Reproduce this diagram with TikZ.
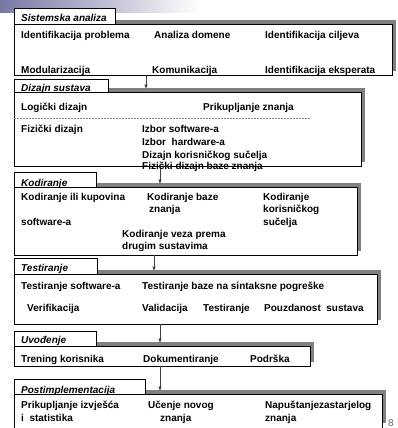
\documentclass[tikz,border=0pt]{standalone}
\usepackage{fontspec}
\setmainfont{Liberation Sans}
\usetikzlibrary{arrows.meta}
\definecolor{shadowgray}{RGB}{128,128,128}
\definecolor{barpurple}{RGB}{120,120,165}
\begin{document}
\begin{tikzpicture}[x=1pt,y=-1pt,
	txt/.style={anchor=base west,yshift=-3.6pt,inner sep=0pt,font=\bfseries\fontsize{10}{12}\selectfont},
	ttl/.style={anchor=base west,yshift=-3.6pt,inner sep=0pt,font=\bfseries\itshape\fontsize{10}{12}\selectfont},
	shad/.style={fill=shadowgray,draw=none},
	frame/.style={draw=black,fill=white,line width=0.8pt},
	arr/.style={-{Latex[length=4.5pt,width=3.5pt]},draw=black!75,line width=0.6pt}]
		\useasboundingbox (0,0) rectangle (397,428);
		\clip (0,0) rectangle (397,428);
		\shade[left color=barpurple,right color=white] (0,0) rectangle (200,13);
	
		% Sistemska analiza
		\draw[shad] (18,20) rectangle (396,71);
		\draw[frame] (14,24) rectangle (392,75);
		\draw[frame] (14,8) rectangle (115,24);
		\node[ttl] (sa) at (21,18) {Sistemska analiza};
		\node[txt] (sa1) at (21,35) {Identifikacija problema};
		\node[txt] (sa2) at (154,35) {Analiza domene};
		\node[txt] (sa3) at (265,35) {Identifikacija ciljeva};
		\node[txt] (sa4) at (21,70) {Modularizacija};
		\node[txt] (sa5) at (152,70) {Komunikacija};
		\node[txt] (sa6) at (265,70) {Identifikacija eksperata};
	
		% Dizajn sustava
		\draw[shad] (18,88) rectangle (365,162);
		\draw[frame] (14,92) rectangle (361,166);
		\draw[frame] (14,79) rectangle (108,92);
		\node[ttl] (ds) at (21,88) {Dizajn sustava};
		\node[txt] (ds1) at (21,107) {Logički dizajn};
		\node[txt] (ds2) at (203,107) {Prikupljanje znanja};
		\draw[shadowgray,line width=0.6pt,dash pattern=on 2pt off 1pt] (14,118) -- (310,118);
		\node[txt] (ds3) at (21,129) {Fizički dizajn};
		\node[txt] (ds4) at (142,129) {Izbor software-a};
		\node[txt] (ds5) at (142,142) {Izbor\ \ hardware-a};
		\node[txt] (ds6) at (142,155) {Dizajn korisničkog sučelja};
	
		% Kodiranje
		\draw[shad] (18,183) rectangle (361,251);
		\draw[frame] (14,187) rectangle (357,255);
		\draw[frame] (14,172) rectangle (96,187);
		\node[ttl] (ko) at (21,183) {Kodiranje};
		\node[txt] (ko1) at (21,197) {Kodiranje ili kupovina};
		\node[txt] (ko2) at (147,197) {Kodiranje baze};
		\node[txt] (ko3) at (149,209) {znanja};
		\node[txt] (ko4) at (263,197) {Kodiranje};
		\node[txt] (ko5) at (263,209) {korisničkog};
		\node[txt] (ko6) at (263,222) {sučelja};
		\node[txt] (ko7) at (21,222) {software-a};
		\node[txt] (ko8) at (122,234) {Kodiranje veza prema};
		\node[txt] (ko9) at (122,246) {drugim sustavima};
	
		% Testiranje
		\draw[shad] (18,270) rectangle (381,320);
		\draw[frame] (14,274) rectangle (377,324);
		\draw[frame] (14,258) rectangle (97,274);
		\node[ttl] (te) at (21,268) {Testiranje};
		\node[txt] (te1) at (21,286) {Testiranje software-a};
		\node[txt] (te2) at (142,286) {Testiranje baze na sintaksne pogreške};
		\node[txt] (te3) at (27,308) {Verifikacija};
		\node[txt] (te4) at (142,308) {Validacija};
		\node[txt] (te5) at (203,308) {Testiranje};
		\node[txt] (te6) at (264,308) {Pouzdanost\ \ sustava};
	
		% Uvodenje
		\draw[shad] (18,342) rectangle (314,362);
		\draw[frame] (14,346) rectangle (310,366);
		\draw[frame] (14,331) rectangle (96,346);
		\node[ttl] (uv) at (21,340) {Uvođenje};
		\node[txt] (uv1) at (21,359) {Trening korisnika};
		\node[txt] (uv2) at (143,359) {Dokumentiranje};
		\node[txt] (uv3) at (250,359) {Podrška};
	
		% Postimplementacija
		\draw[shad] (18,390) rectangle (386,423);
		\draw[frame] (14,394) rectangle (382,431);
		\draw[frame] (14,379) rectangle (145,394);
		\node[ttl] (pi) at (21,390) {Postimplementacija};
		\node[txt] (pi1) at (21,405) {Prikupljanje izvješća};
		\node[txt] (pi2) at (21,418) {i\ \ statistika};
		\node[txt] (pi3) at (148,405) {Učenje novog};
		\node[txt] (pi4) at (160,418) {znanja};
		\node[txt] (pi5) at (265,405) {Napuštanjezastarjelog};
		\node[txt] (pi6) at (265,418) {znanja};
		\node[anchor=base west,yshift=-3.6pt,inner sep=0pt,text=black!60,font=\fontsize{10}{12}\selectfont] (pg) at (388,423) {8};
	
		% veze
		\coordinate (s1) at (146,75);
		\coordinate (e2) at (146,89);
		\coordinate (s2) at (160,166);
		\coordinate (e3) at (160,184);
		\coordinate (s3) at (154,255);
		\coordinate (e4) at (154,271);
		\coordinate (s4) at (160,324);
		\coordinate (e5) at (160,343);
		\coordinate (s5) at (160,366);
		\coordinate (e6) at (160,391);
		\draw[arr] (s1) -- (e2);
		\draw[arr] (s2) -- (e3);
		\draw[arr] (s3) -- (e4);
		\draw[arr] (s4) -- (e5);
		\draw[arr] (s5) -- (e6);
	
		% preko crte
		\node[txt] (ds7) at (142,166) {Fizički dizajn baze znanja};
	
	\end{tikzpicture}
\end{document}
